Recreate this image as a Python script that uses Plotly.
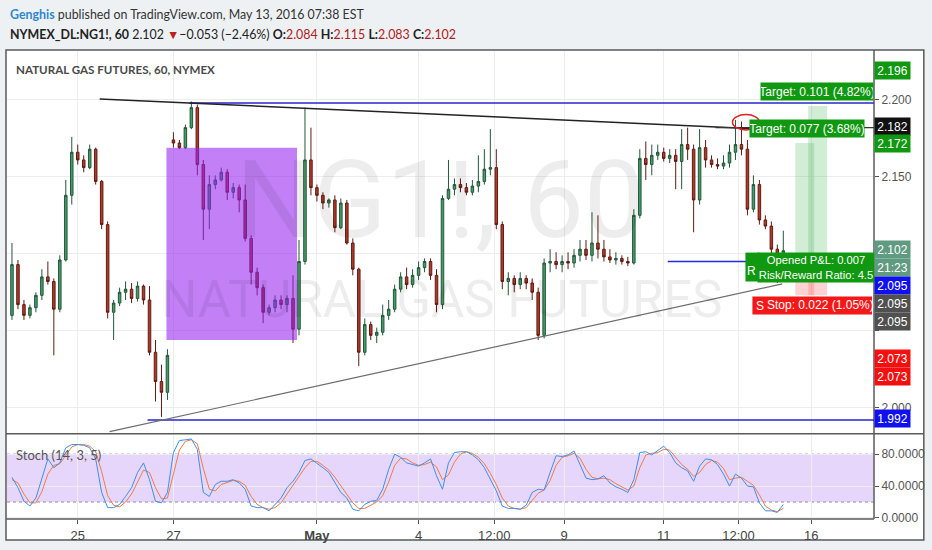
import plotly.graph_objects as go

# ---------------- data (hourly index: hours from Apr 25 00:00, 3-hour bars) ----------------
OPEN_FIRST = 2.060
ROLL_INDEX = 27          # contract roll gap
ROLL_OPEN = 2.174

closes = [2.093,2.067,2.060,2.065,2.073,2.085,2.082,2.064,2.096,2.138,
          2.166,2.161,2.156,2.168,2.147,2.119,2.062,2.068,2.075,2.077,
          2.071,2.079,2.070,2.036,2.017,2.010,2.034,2.172,2.169,2.182,
          2.195,2.158,2.129,2.145,2.148,2.153,2.140,2.143,2.135,2.110,
          2.088,2.078,2.062,2.065,2.070,2.067,2.071,2.051,2.095,2.161,
          2.143,2.138,2.133,2.135,2.117,2.133,2.107,2.090,2.036,2.054,
          2.047,2.049,2.060,2.064,2.077,2.085,2.080,2.086,2.091,2.095,
          2.086,2.067,2.136,2.142,2.145,2.143,2.140,2.144,2.147,2.155,
          2.156,2.119,2.082,2.084,2.080,2.084,2.081,2.075,2.047,2.094,
          2.095,2.093,2.095,2.094,2.099,2.103,2.099,2.107,2.103,2.098,
          2.096,2.097,2.095,2.094,2.125,2.162,2.158,2.164,2.166,2.162,
          2.164,2.160,2.171,2.168,2.135,2.169,2.161,2.158,2.157,2.159,
          2.166,2.171,2.168,2.129,2.145,2.122,2.118,2.103,2.084,2.102]

highs = [2.107,2.096,2.070,2.067,2.075,2.090,2.095,2.084,2.099,2.148,
         2.176,2.171,2.164,2.171,2.169,2.148,2.121,2.070,2.078,2.082,
         2.081,2.082,2.080,2.079,2.044,2.028,2.038,2.179,2.174,2.184,
         2.199,2.197,2.161,2.151,2.151,2.156,2.155,2.146,2.145,2.145,
         2.112,2.091,2.080,2.067,2.073,2.073,2.073,2.086,2.109,2.195,
         2.182,2.145,2.140,2.136,2.138,2.136,2.135,2.110,2.091,2.058,
         2.056,2.052,2.067,2.070,2.080,2.088,2.091,2.090,2.095,2.097,
         2.097,2.090,2.138,2.161,2.149,2.149,2.146,2.148,2.164,2.168,
         2.181,2.168,2.121,2.088,2.086,2.088,2.086,2.084,2.078,2.097,
         2.103,2.101,2.099,2.101,2.103,2.109,2.109,2.127,2.125,2.109,
         2.103,2.101,2.099,2.098,2.129,2.168,2.173,2.171,2.171,2.169,
         2.168,2.168,2.181,2.182,2.171,2.181,2.174,2.164,2.162,2.164,
         2.171,2.187,2.186,2.174,2.151,2.148,2.125,2.121,2.106,2.115]

lows = [2.057,2.064,2.057,2.058,2.062,2.070,2.080,2.034,2.062,2.095,
        2.132,2.158,2.153,2.155,2.145,2.116,2.058,2.044,2.066,2.070,
        2.068,2.069,2.067,2.034,2.004,1.994,2.005,2.169,2.168,2.168,
        2.181,2.151,2.109,2.116,2.142,2.147,2.135,2.136,2.127,2.108,
        2.080,2.073,2.055,2.060,2.062,2.064,2.062,2.042,2.047,2.093,
        2.138,2.134,2.129,2.130,2.114,2.116,2.106,2.086,2.027,2.034,
        2.044,2.042,2.047,2.057,2.062,2.075,2.077,2.078,2.083,2.088,
        2.083,2.062,2.064,2.135,2.138,2.140,2.138,2.138,2.140,2.145,
        2.151,2.116,2.077,2.073,2.075,2.077,2.077,2.070,2.044,2.045,
        2.088,2.090,2.088,2.090,2.091,2.095,2.096,2.095,2.097,2.095,
        2.094,2.093,2.093,2.092,2.093,2.123,2.148,2.151,2.161,2.160,
        2.159,2.142,2.142,2.161,2.114,2.132,2.156,2.156,2.155,2.155,
        2.156,2.161,2.164,2.125,2.127,2.119,2.116,2.099,2.081,2.083]

stoch_k = [51,38,21,15,25,48,74,63,69,88, 92,92,91,88,74,32,13,13,17,27,
           38,57,69,48,21,19,32,82,97,98, 99,86,32,27,42,46,46,48,44,36,
           15,13,13,9,17,25,38,46,57,72, 74,69,63,57,44,32,25,11,9,17,
           21,22,36,61,80,76,69,67,65,69, 74,53,36,69,82,83,83,79,73,63,
           48,34,15,12,12,11,16,32,36,35, 57,78,77,79,84,67,50,48,49,53,
           44,39,36,32,48,82,83,79,84,90, 82,69,63,59,46,65,74,73,67,55,
           40,55,50,40,39,19,9,9,7,17]

stoch_d = [48,44,30,19,19,33,55,66,68,78, 89,92,92,90,83,58,28,16,14,20,
           30,45,60,57,38,24,25,55,85,96, 98,93,62,36,34,42,45,47,46,41,
           27,17,13,11,13,19,30,41,51,63, 71,71,66,60,51,40,30,19,12,12,
           16,20,28,45,66,75,74,69,66,67, 70,64,48,54,70,80,83,81,76,68,
           56,42,25,15,12,11,13,22,31,35, 47,66,76,78,81,75,61,51,49,50,
           48,43,39,35,40,63,79,81,82,86, 85,76,67,61,52,57,67,72,70,62,
           48,50,51,46,41,29,15,10,8,12]

BAR_START_HOUR = -33
BAR_STEP_HOURS = 3
bar_hours = [BAR_START_HOUR + BAR_STEP_HOURS * i for i in range(len(closes))]

opens = [OPEN_FIRST] + closes[:-1]
opens[ROLL_INDEX] = ROLL_OPEN

tick_hours = [0, 48, 120, 171, 209, 244, 294, 331.5, 368]
tick_labels = ["25", "27", "<b>May</b>", "4", "12:00", "9", "11", "12:00", "16"]

price_ticks = [2.000, 2.050, 2.100, 2.150, 2.200]
price_tick_text = ["2.000", "", "", "2.150", "2.200"]
stoch_ticks = [0, 40, 80]

# drawings (hour, price)
top_trend = ((11, 2.2006), (337, 2.1815))
low_trend = ((16, 1.9844), (353.5, 2.0805))
top_level = (56, 2.198)
bottom_level = (35, 1.992)
resist_level = (320, 2.182)
entry_level = (296, 2.095)
purple_box = (44.5, 110, 2.044, 2.169)
entry_price, stop_price = 2.095, 2.073
tool_a = (360, 369.5, 2.172)
tool_b = (366.5, 376, 2.196)
ellipse = (328.5, 342, 2.1805, 2.1905)

# ---------------- layout geometry ----------------
W, H = 932, 550
ML, MR, MT, MB = 7, 55, 51, 30
PW, PH = W - ML - MR, H - MT - MB
X_MIN, X_MAX = -35.5, 399.5
Y_MIN, Y_MAX = 1.9831, 2.2318


def PX(px):
    return (px - ML) / PW


def PY(py):
    return 1 - (py - MT) / PH


main_dom = [PY(434.5), 1]
stoch_dom = [0, PY(436)]

fig = go.Figure()

fig.add_trace(go.Candlestick(
    x=bar_hours, open=opens, high=highs, low=lows, close=closes,
    increasing=dict(fillcolor="#449c6a", line=dict(color="#24563a", width=1)),
    decreasing=dict(fillcolor="#b23a2a", line=dict(color="#5e1b12", width=1)),
    whiskerwidth=0, xaxis="x", yaxis="y", showlegend=False, hoverinfo="skip"))

fig.add_trace(go.Scatter(x=bar_hours, y=stoch_d, mode="lines",
                         line=dict(color="#f07a45", width=1),
                         xaxis="x2", yaxis="y2", showlegend=False, hoverinfo="skip"))
fig.add_trace(go.Scatter(x=bar_hours, y=stoch_k, mode="lines",
                         line=dict(color="#3d8ef0", width=1),
                         xaxis="x2", yaxis="y2", showlegend=False, hoverinfo="skip"))

shapes = []
# chart frame (white)
shapes.append(dict(type="rect", xref="paper", yref="paper", x0=PX(6), x1=PX(927),
                   y0=PY(541), y1=PY(50), fillcolor="white",
                   line=dict(color="#5a5a5a", width=1.5), layer="below"))
# separators
shapes.append(dict(type="line", xref="paper", yref="paper", x0=PX(6), x1=PX(927),
                   y0=PY(434.5), y1=PY(434.5), line=dict(color="#5a5a5a", width=1.5)))
shapes.append(dict(type="line", xref="paper", yref="paper", x0=PX(6), x1=PX(877),
                   y0=PY(520), y1=PY(520), line=dict(color="#5a5a5a", width=1.5)))
shapes.append(dict(type="line", xref="paper", yref="paper", x0=PX(877), x1=PX(877),
                   y0=PY(520), y1=PY(50), line=dict(color="#5a5a5a", width=1.5)))

# stoch band
shapes.append(dict(type="rect", xref="x2", yref="y2", x0=X_MIN, x1=X_MAX, y0=20, y1=80,
                   fillcolor="rgba(160,90,240,0.25)", line=dict(width=0), layer="below"))
for lv in (20, 80):
    shapes.append(dict(type="line", xref="x2", yref="y2", x0=X_MIN, x1=X_MAX, y0=lv, y1=lv,
                       line=dict(color="#9a8aa8", width=1, dash="dot"), layer="below"))

# drawings on price chart
shapes.append(dict(type="line", xref="x", yref="y", x0=top_level[0], x1=X_MAX,
                   y0=top_level[1], y1=top_level[1], line=dict(color="#2424d0", width=1.5)))
shapes.append(dict(type="line", xref="x", yref="y", x0=bottom_level[0], x1=X_MAX,
                   y0=bottom_level[1], y1=bottom_level[1], line=dict(color="#2424d0", width=1.5)))
shapes.append(dict(type="line", xref="x", yref="y", x0=top_trend[0][0], x1=top_trend[1][0],
                   y0=top_trend[0][1], y1=top_trend[1][1], line=dict(color="#222222", width=1.5)))
shapes.append(dict(type="line", xref="x", yref="y", x0=resist_level[0], x1=X_MAX,
                   y0=resist_level[1], y1=resist_level[1], line=dict(color="#333333", width=1.2)))
shapes.append(dict(type="line", xref="x", yref="y", x0=low_trend[0][0], x1=low_trend[1][0],
                   y0=low_trend[0][1], y1=low_trend[1][1], line=dict(color="#6e6e6e", width=1.2)))
shapes.append(dict(type="line", xref="x", yref="y", x0=entry_level[0], x1=tool_a[0],
                   y0=entry_level[1], y1=entry_level[1], line=dict(color="#2a2ae0", width=1.5)))
shapes.append(dict(type="rect", xref="x", yref="y", x0=purple_box[0], x1=purple_box[1],
                   y0=purple_box[2], y1=purple_box[3], fillcolor="rgba(150,35,240,0.58)",
                   line=dict(width=0), layer="above"))
for t0, t1, tgt in (tool_a, tool_b):
    shapes.append(dict(type="rect", xref="x", yref="y", x0=t0, x1=t1, y0=entry_price, y1=tgt,
                       fillcolor="rgba(70,185,90,0.25)", line=dict(width=0)))
    shapes.append(dict(type="rect", xref="x", yref="y", x0=t0, x1=t1, y0=stop_price, y1=entry_price,
                       fillcolor="rgba(255,80,80,0.25)", line=dict(width=0)))
shapes.append(dict(type="circle", xref="x", yref="y", x0=ellipse[0], x1=ellipse[1],
                   y0=ellipse[2], y1=ellipse[3], line=dict(color="#e02020", width=1.5)))
# label boxes behind the position labels
shapes.append(dict(type="rect", xref="paper", yref="paper", x0=PX(748), x1=PX(762),
                   y0=PY(282), y1=PY(253), fillcolor="#109910", line=dict(width=0), layer="above"))
shapes.append(dict(type="rect", xref="paper", yref="paper", x0=PX(755), x1=PX(875),
                   y0=PY(315), y1=PY(297), fillcolor="#f51818", line=dict(width=0), layer="above"))

ann = []
FONT = "Lato"
# header
ann.append(dict(xref="paper", yref="paper", x=PX(8), y=PY(14), xanchor="left", yanchor="middle",
                showarrow=False,
                text="<b><span style='color:#2f87cf'>Genghis</span></b> published on TradingView.com, May 13, 2016 07:38 EST",
                font=dict(family=FONT, size=12.4, color="#333333")))
ann.append(dict(xref="paper", yref="paper", x=PX(8), y=PY(34), xanchor="left", yanchor="middle",
                showarrow=False,
                text=("<b>NYMEX_DL:NG1!, 60</b> 2.102 <span style='color:#c0201a'>▼</span>−0.053 (−2.46%) "
                      "<b>O:</b><span style='color:#b0201a'>2.084</span> <b>H:</b><span style='color:#b0201a'>2.115</span> "
                      "<b>L:</b><span style='color:#b0201a'>2.083</span> <b>C:</b><span style='color:#b0201a'>2.102</span>"),
                font=dict(family=FONT, size=12.4, color="#222222")))
ann.append(dict(xref="paper", yref="paper", x=PX(14), y=PY(70), xanchor="left", yanchor="middle",
                showarrow=False, text="<b>NATURAL GAS FUTURES, 60, NYMEX</b>",
                font=dict(family=FONT, size=11.6, color="#4a4a4a")))
# watermark
ann.append(dict(xref="paper", yref="paper", x=PX(442), y=PY(200), xanchor="center", yanchor="middle",
                showarrow=False, text="NG1!, 60",
                font=dict(family="Roboto", size=108, color="rgba(0,0,0,0.07)")))
ann.append(dict(xref="paper", yref="paper", x=PX(444), y=PY(300), xanchor="center", yanchor="middle",
                showarrow=False, text="NATURAL GAS FUTURES",
                font=dict(family="Roboto", size=51, color="rgba(0,0,0,0.07)")))
ann.append(dict(xref="paper", yref="paper", x=PX(14), y=PY(456), xanchor="left", yanchor="middle",
                showarrow=False, text="Stoch (14, 3, 5)",
                font=dict(family=FONT, size=13, color="#555555")))

LBL = "Liberation Sans"


def box(cx, cy, text, color, w, h, size=12, fcolor="white"):
    ann.append(dict(xref="paper", yref="paper", x=PX(cx), y=PY(cy), xanchor="center", yanchor="middle",
                    showarrow=False, text=text, bgcolor=color, width=w, height=h, borderpad=0,
                    font=dict(family=LBL, size=size, color=fcolor)))


def txt(cx, cy, text, size=12, color="white"):
    ann.append(dict(xref="paper", yref="paper", x=PX(cx), y=PY(cy), xanchor="center", yanchor="middle",
                    showarrow=False, text=text, font=dict(family=LBL, size=size, color=color)))


# position tool labels
box(820, 91.5, "Target: 0.101 (4.82%)", "#109910", 112, 17)
box(810, 129, "Target: 0.077 (3.68%)", "#109910", 114, 17)
txt(754, 271, "R")
box(819, 267.5, "Opened P&L: 0.007<br>Risk/Reward Ratio: 4.5", "#109910", 116, 29, size=11.2)
txt(763, 306.5, "S")
txt(823, 306, "Stop: 0.022 (1.05%)")

# axis price labels
axis_boxes = [(70.5, "2.196", "#109910"), (127, "2.182", "#111111"), (144, "2.172", "#109910"),
              (249.5, "2.102", "#5f9b80"), (267.5, "21:23", "#5f9b80"), (286.5, "2.095", "#1010ee"),
              (304.5, "2.095", "#505050"), (322.5, "2.095", "#505050"), (359.5, "2.073", "#f51010"),
              (377.5, "2.073", "#f51010"), (419.5, "1.992", "#1010ee")]
for cy, t, col in axis_boxes:
    box(896, cy, t, col, 35, 17, size=12)

fig.update_layout(
    width=W, height=H, margin=dict(l=ML, r=MR, t=MT, b=MB),
    paper_bgcolor="#eef1f4", plot_bgcolor="rgba(0,0,0,0)",
    shapes=shapes, annotations=ann, showlegend=False, boxgap=0.4,
    xaxis=dict(domain=[0, 1], anchor="y", range=[X_MIN, X_MAX], rangeslider=dict(visible=False),
               tickvals=tick_hours, ticktext=tick_labels, showticklabels=False, ticks="",
               showgrid=True, gridcolor="#ededed", zeroline=False, showline=False),
    xaxis2=dict(domain=[0, 1], anchor="y2", matches="x", range=[X_MIN, X_MAX],
                tickvals=tick_hours, ticktext=tick_labels, ticks="outside", ticklen=4,
                tickcolor="#555", showgrid=True, gridcolor="#ededed", zeroline=False,
                showline=False, tickfont=dict(family=LBL, size=13, color="#444444")),
    yaxis=dict(domain=main_dom, anchor="x", side="right", range=[Y_MIN, Y_MAX],
               tickvals=price_ticks, ticktext=price_tick_text, ticks="outside", ticklen=4,
               tickcolor="#555", showgrid=True, gridcolor="#ededed", zeroline=False,
               showline=False, tickfont=dict(family=LBL, size=12, color="#555555")),
    yaxis2=dict(domain=stoch_dom, anchor="x2", side="right", range=[-1.25, 103.75],
                tickvals=stoch_ticks, tickformat=".4f", ticks="outside", ticklen=4,
                tickcolor="#555", showgrid=True, gridcolor="#ededed", zeroline=False,
                showline=False, tickfont=dict(family=LBL, size=12, color="#555555")),
)

fig.write_html("out.html", config={"displayModeBar": False},
               post_script="document.body.style.margin='0';document.body.style.overflow='hidden';")
